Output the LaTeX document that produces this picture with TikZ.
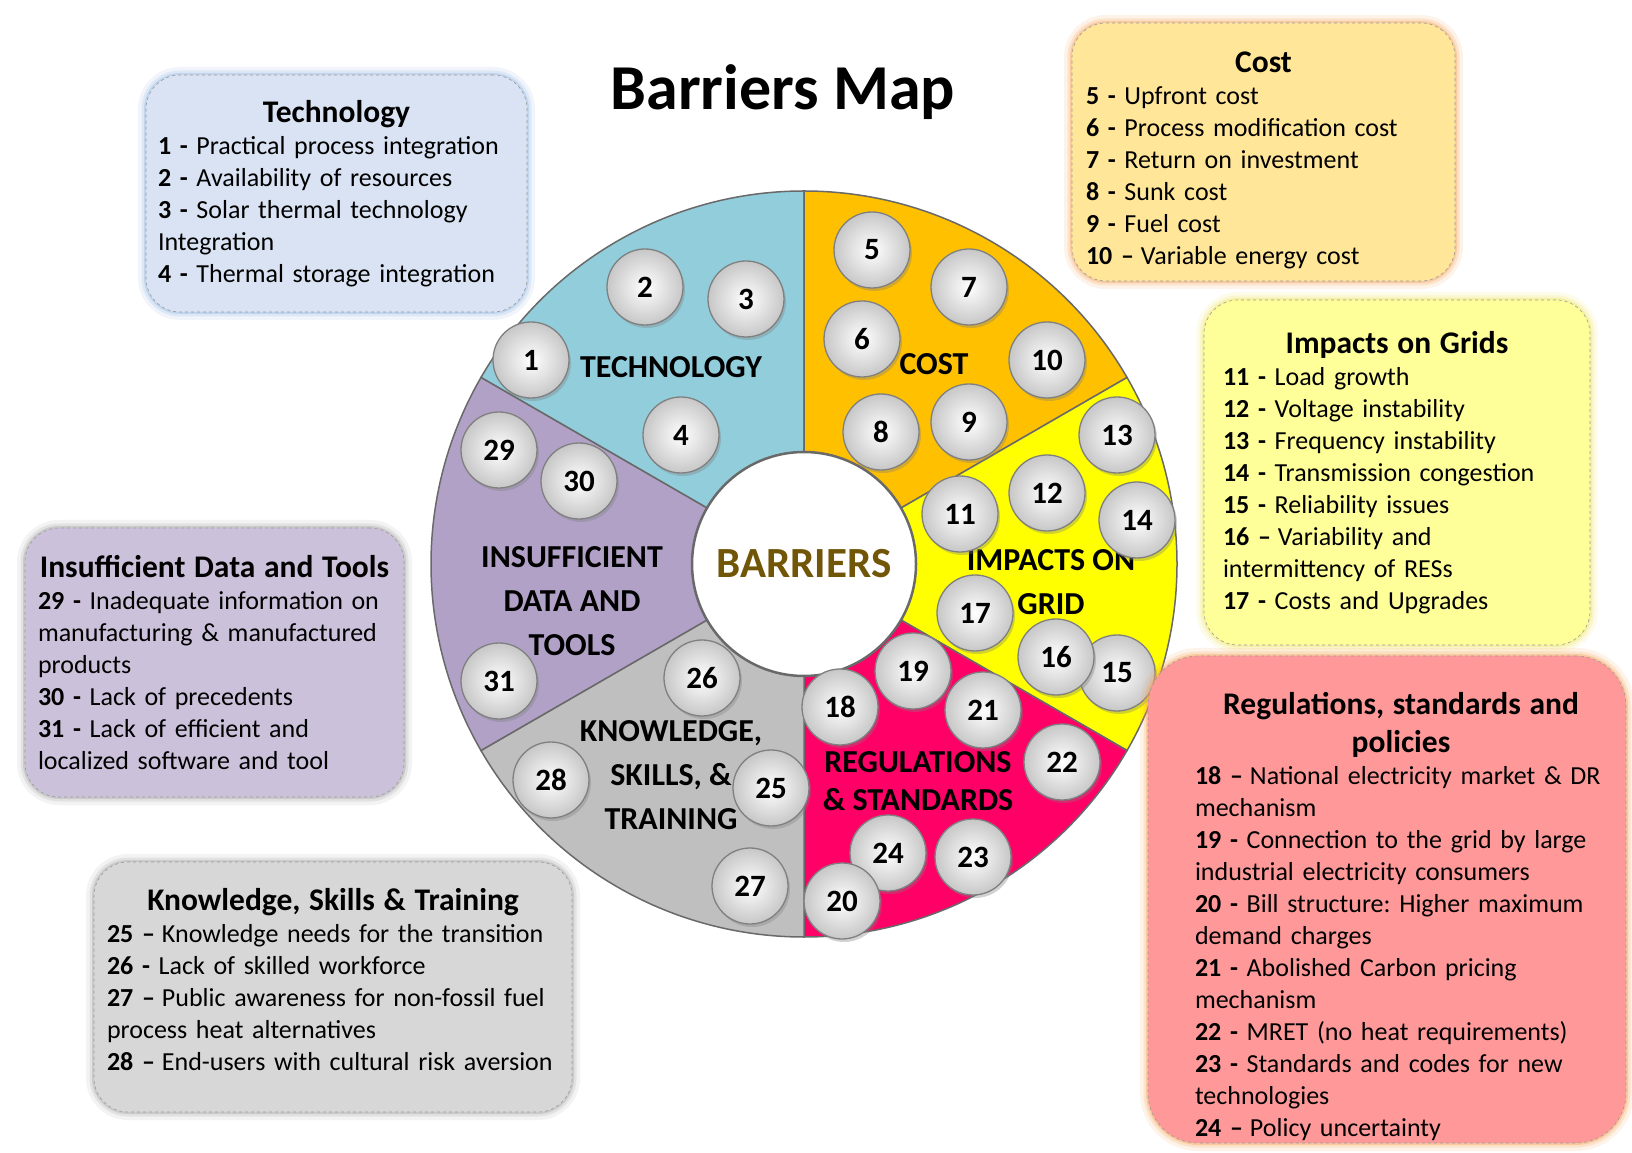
\documentclass[tikz,border=0pt]{standalone}
\usepackage{fontspec}
\setmainfont{Carlito}
\usepackage{xcolor}
\usetikzlibrary{shadows}
\frenchspacing

\definecolor{techfill}{RGB}{146,205,220}
\definecolor{costfill}{RGB}{255,192,0}
\definecolor{gridfill}{RGB}{255,255,0}
\definecolor{regfill}{RGB}{255,0,102}
\definecolor{knowfill}{RGB}{191,191,191}
\definecolor{datafill}{RGB}{178,161,199}
\definecolor{ringline}{RGB}{105,105,105}
\definecolor{barrierbrown}{RGB}{112,86,6}
\definecolor{techbox}{RGB}{218,227,243}
\definecolor{costbox}{RGB}{255,230,153}
\definecolor{gridbox}{RGB}{255,255,153}
\definecolor{regbox}{RGB}{255,153,153}
\definecolor{databox}{RGB}{204,193,218}
\definecolor{knowbox}{RGB}{215,215,215}
\definecolor{techglow}{RGB}{142,180,227}
\definecolor{warmglow}{RGB}{247,160,80}
\definecolor{yellowglow}{RGB}{240,230,90}
\definecolor{greyglow}{RGB}{160,160,160}

\newcommand{\dashno}[1]{\textbf{#1}\hspace{7pt}}

\begin{document}
\begin{tikzpicture}[x=1pt,y=1pt,
  bubble/.style={circle,draw=black!50,line width=1.3pt,inner color=white,outer color=black!22,minimum size=76pt,inner sep=0pt,font=\fontsize{31}{31}\selectfont\bfseries,drop shadow={opacity=0.35,shadow xshift=2pt,shadow yshift=-3pt}},
  sector/.style={font=\fontsize{32}{44}\selectfont\bfseries,align=center,inner sep=0pt},
  infobox/.style={rounded corners=34pt,dashed,draw=black!40,line width=0.6pt,inner sep=0pt},
  boxtext/.style={inner sep=0pt,align=left,font=\fontsize{26}{32}\selectfont},
  glow/.style={preaction={draw=#1,solid,opacity=0.12,line width=16pt},preaction={draw=#1,solid,opacity=0.2,line width=9pt},preaction={draw=#1,solid,opacity=0.35,line width=4pt}}]
  \useasboundingbox[fill=white] (0,0) rectangle (1632,1152);

  \node[font=\fontsize{64}{64}\selectfont\bfseries] (title) at (783,1060) {Barriers Map};

  \coordinate (cen) at (804,588);
  \filldraw[fill=techfill,draw=ringline,line width=1.5pt] (cen) -- ++(90:373) arc[start angle=90,end angle=150,radius=373] -- cycle;
  \filldraw[fill=costfill,draw=ringline,line width=1.5pt] (cen) -- ++(30:373) arc[start angle=30,end angle=90,radius=373] -- cycle;
  \filldraw[fill=gridfill,draw=ringline,line width=1.5pt] (cen) -- ++(-30:373) arc[start angle=-30,end angle=30,radius=373] -- cycle;
  \filldraw[fill=regfill,draw=ringline,line width=1.5pt] (cen) -- ++(-90:373) arc[start angle=-90,end angle=-30,radius=373] -- cycle;
  \filldraw[fill=knowfill,draw=ringline,line width=1.5pt] (cen) -- ++(210:373) arc[start angle=210,end angle=270,radius=373] -- cycle;
  \filldraw[fill=datafill,draw=ringline,line width=1.5pt] (cen) -- ++(150:373) arc[start angle=150,end angle=210,radius=373] -- cycle;
  \node[circle,fill=white,draw=ringline,line width=2.5pt,minimum size=224pt,text=barrierbrown,font=\fontsize{43}{43}\selectfont\bfseries] (core) at (cen) {BARRIERS};

  \node[sector] (techlabel) at (671,785) {TECHNOLOGY};
  \node[sector] (costlabel) at (934,788) {COST};
  \node[sector] (gridlabel) at (1051,570) {IMPACTS ON\\GRID};
  \node[sector] (datalabel) at (572,551) {INSUFFICIENT\\DATA AND\\TOOLS};
  \node[sector] (knowlabel) at (671,377) {KNOWLEDGE,\\SKILLS, \&\\TRAINING};
  \node[sector,font=\fontsize{32}{38}\selectfont\bfseries] (reglabel) at (918,371) {REGULATIONS\\\& STANDARDS};

  \node[bubble] (b1) at (531,792) {1};
  \node[bubble] (b2) at (645,865) {2};
  \node[bubble] (b3) at (746,853) {3};
  \node[bubble] (b4) at (681,717) {4};
  \node[bubble] (b5) at (872,902) {5};
  \node[bubble] (b6) at (862,813) {6};
  \node[bubble] (b7) at (969,865) {7};
  \node[bubble] (b8) at (881,720) {8};
  \node[bubble] (b9) at (969,730) {9};
  \node[bubble] (b10) at (1047,792) {10};
  \node[bubble] (b11) at (960,638) {11};
  \node[bubble] (b12) at (1047,659) {12};
  \node[bubble] (b13) at (1117,717) {13};
  \node[bubble] (b14) at (1137,632) {14};
  \node[bubble] (b15) at (1117,479) {15};
  \node[bubble] (b16) at (1056,495) {16};
  \node[bubble] (b17) at (975,539) {17};
  \node[bubble] (b18) at (840,445) {18};
  \node[bubble] (b19) at (913,481) {19};
  \node[bubble] (b21) at (983,442) {21};
  \node[bubble] (b22) at (1062,390) {22};
  \node[bubble] (b23) at (973,295) {23};
  \node[bubble] (b24) at (888,299) {24};
  \node[bubble] (b20) at (842,251) {20};
  \node[bubble] (b25) at (771,364) {25};
  \node[bubble] (b26) at (702,474) {26};
  \node[bubble] (b27) at (750,266) {27};
  \node[bubble] (b28) at (551,372) {28};
  \node[bubble] (b29) at (499,702) {29};
  \node[bubble] (b30) at (579,671) {30};
  \node[bubble] (b31) at (499,471) {31};

  \node[infobox,glow=techglow,fill=techbox,minimum width=381pt,minimum height=237pt] (techbox) at (336.5,958.5) {};
  \node[boxtext,text width=357pt] (techtext) at (336.5,958.5) {{\centering\fontsize{31.5}{36}\selectfont\bfseries Technology\par}
    \textbf{1 -} Practical process integration\\
    \textbf{2 -} Availability of resources\\
    \textbf{3 -} Solar thermal technology\\
    Integration\\
    \textbf{4 -} Thermal storage integration};

  \node[infobox,glow=warmglow,fill=costbox,minimum width=383pt,minimum height=258pt] (costbox) at (1263.5,1000) {};
  \node[boxtext,text width=355pt] (costtext) at (1263.5,991.5) {{\centering\fontsize{31.5}{36}\selectfont\bfseries Cost\par}
    \textbf{5 -} Upfront cost\\
    \textbf{6 -} Process modification cost\\
    \textbf{7 -} Return on investment\\
    \textbf{8 -} Sunk cost\\
    \textbf{9 -} Fuel cost\\
    \dashno{10 –}Variable energy cost};

  \node[infobox,glow=yellowglow,fill=gridbox,minimum width=386pt,minimum height=345pt] (gridbox) at (1397,679.5) {};
  \node[boxtext,text width=348pt] (gridtext) at (1397,679.5) {{\centering\fontsize{31.5}{36}\selectfont\bfseries Impacts on Grids\par}
    \textbf{11 -} Load growth\\
    \textbf{12 -} Voltage instability\\
    \textbf{13 -} Frequency instability\\
    \textbf{14 -} Transmission congestion\\
    \textbf{15 -} Reliability issues\\
    \dashno{16 –}Variability and\\
    intermittency of RESs\\
    \textbf{17 -} Costs and Upgrades};

  \node[infobox,glow=warmglow,fill=regbox,rounded corners=50pt,minimum width=478pt,minimum height=487pt] (regbox) at (1387,252.5) {};
  \node[boxtext,text width=412pt] (regtext) at (1401,235) {{\centering\fontsize{31.5}{38}\selectfont\bfseries Regulations, standards and\\policies\par}
    \dashno{18 –}National electricity market \& DR\\
    mechanism\\
    \textbf{19 -} Connection to the grid by large\\
    industrial electricity consumers\\
    \textbf{20 -} Bill structure: Higher maximum\\
    demand charges\\
    \textbf{21 -} Abolished Carbon pricing\\
    mechanism\\
    \textbf{22 -} MRET (no heat requirements)\\
    \textbf{23 -} Standards and codes for new\\
    technologies\\
    \dashno{24 –}Policy uncertainty};

  \node[infobox,glow=greyglow,fill=databox,minimum width=379pt,minimum height=269pt] (databox) at (214.5,489.5) {};
  \node[boxtext,text width=353pt] (datatext) at (214.5,489.5) {{\centering\fontsize{31.5}{36}\selectfont\bfseries Insufficient Data and Tools\par}
    \textbf{29 -} Inadequate information on\\
    manufacturing \& manufactured\\
    products\\
    \textbf{30 -} Lack of precedents\\
    \textbf{31 -} Lack of efficient and\\
    localized software and tool};

  \node[infobox,glow=greyglow,fill=knowbox,minimum width=478pt,minimum height=250pt] (knowbox) at (333,165) {};
  \node[boxtext,text width=452pt] (knowtext) at (333,172.5) {{\centering\fontsize{31.5}{36}\selectfont\bfseries Knowledge, Skills \& Training\par}
    \dashno{25 –}Knowledge needs for the transition\\
    \textbf{26 -} Lack of skilled workforce\\
    \dashno{27 –}Public awareness for non-fossil fuel\\
    process heat alternatives\\
    \dashno{28 –}End-users with cultural risk aversion};
\end{tikzpicture}
\end{document}
